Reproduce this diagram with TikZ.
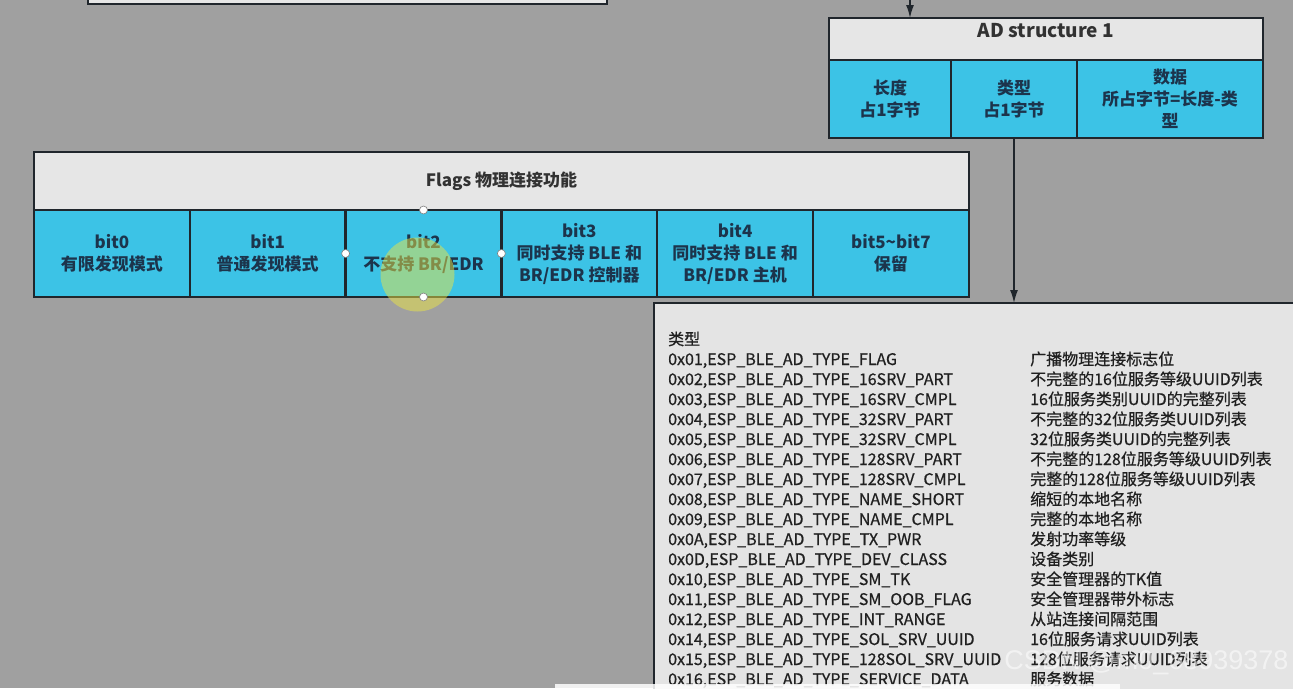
\documentclass[tikz,border=0pt]{standalone}
\usepackage{fontspec}
\setmainfont{Noto Sans CJK SC}
\newfontfamily\listfont[FakeBold=0.6]{Noto Sans CJK SC}
\newfontfamily\markfont{Liberation Sans}
\usepackage{tikz}
\usetikzlibrary{shapes.geometric, arrows.meta, positioning, calc}

\definecolor{bggray}{RGB}{160,160,160}
\definecolor{paper}{RGB}{230,230,230}
\definecolor{listpaper}{RGB}{228,228,228}
\definecolor{edge}{RGB}{32,38,44}
\definecolor{cyanfill}{RGB}{60,195,230}
\definecolor{cellink}{RGB}{28,52,76}
\definecolor{titleink}{RGB}{50,50,50}
\definecolor{listink}{RGB}{32,32,32}
\definecolor{glow}{RGB}{235,228,70}

\begin{document}
\begin{tikzpicture}[x=1pt, y=-1pt,
    titlebox/.style={rectangle, draw=edge, line width=2.5pt, fill=paper, outer sep=0pt, inner sep=3pt, text=titleink, font=\bfseries\fontsize{17pt}{20pt}\selectfont},
    cell/.style={rectangle, draw=edge, line width=2.5pt, fill=cyanfill, outer sep=0pt, inner sep=2pt, align=center, text=cellink, font=\bfseries\fontsize{17pt}{22pt}\selectfont},
    flagcell/.style={cell, minimum width=155.8, minimum height=87},
    adcell/.style={cell, minimum height=78},
    listtext/.style={inner sep=0pt, text=listink, font=\listfont\fontsize{16pt}{20pt}\selectfont},
    handle/.style={circle, draw=gray, fill=white, line width=0.6pt, inner sep=0pt, minimum size=8pt},
    arrow/.style={line width=1.5pt, draw=edge, -{Latex[length=13pt,width=8pt]}}]
    \fill[bggray] (0,0) rectangle (1293,688);
    \useasboundingbox (0,0) rectangle (1293,688);
    \clip (0,0) rectangle (1293,688);

    % box cut off at the top
    \node [titlebox, anchor=south west, minimum width=519, minimum height=40] (prev) at (88,4) {};

    % AD structure
    \node [titlebox, anchor=north west, minimum width=434, minimum height=42, text depth=17pt, font=\bfseries\fontsize{19pt}{22pt}\selectfont] (adtitle) at (829,18) {AD structure 1};
    \node [adcell, minimum width=122, anchor=north west] (adlen) at (adtitle.south west) {长度\\占1字节};
    \node [adcell, minimum width=126, right=0pt of adlen] (adtype) {类型\\占1字节};
    \node [adcell, minimum width=186, right=0pt of adtype] (addata) {数据\\所占字节=长度-类\\型};

    % Flags
    \node [titlebox, anchor=north west, minimum width=935, minimum height=58] (flags) at (34,152) {Flags 物理连接功能};
    \node [flagcell, anchor=north west] (bit0) at (flags.south west) {bit0\\有限发现模式};
    \node [flagcell, right=0pt of bit0] (bit1) {bit1\\普通发现模式};
    \node [flagcell, right=0pt of bit1] (bit2) {bit2\\不支持 BR/EDR};
    \node [flagcell, right=0pt of bit2] (bit3) {bit3\\同时支持 BLE 和\\BR/EDR 控制器};
    \node [flagcell, right=0pt of bit3] (bit4) {bit4\\同时支持 BLE 和\\BR/EDR 主机};
    \node [flagcell, right=0pt of bit4] (bit5) {bit5\textasciitilde bit7\\保留};

    % selection on bit2
    \fill [glow, opacity=0.5] ($(bit2.center)+(-6,21)$) circle (37);
    \node [handle] (hn) at (bit2.north) {};
    \node [handle] (hw) at (bit2.west) {};
    \node [handle] (he) at (bit2.east) {};
    \node [handle] (hs) at (bit2.south) {};

    % type list
    \node [rectangle, draw=edge, line width=2.5pt, fill=listpaper, outer sep=0pt, anchor=north west, minimum width=700, minimum height=420] (types) at (654,303) {};
    \node [listtext, anchor=base west] (typehead) at (668,345) {类型};
    \foreach \code/\desc [count=\i] in {
        {0x01,ESP\_BLE\_AD\_TYPE\_FLAG}/广播物理连接标志位,
        {0x02,ESP\_BLE\_AD\_TYPE\_16SRV\_PART}/不完整的16位服务等级UUID列表,
        {0x03,ESP\_BLE\_AD\_TYPE\_16SRV\_CMPL}/16位服务类别UUID的完整列表,
        {0x04,ESP\_BLE\_AD\_TYPE\_32SRV\_PART}/不完整的32位服务类UUID列表,
        {0x05,ESP\_BLE\_AD\_TYPE\_32SRV\_CMPL}/32位服务类UUID的完整列表,
        {0x06,ESP\_BLE\_AD\_TYPE\_128SRV\_PART}/不完整的128位服务等级UUID列表,
        {0x07,ESP\_BLE\_AD\_TYPE\_128SRV\_CMPL}/完整的128位服务等级UUID列表,
        {0x08,ESP\_BLE\_AD\_TYPE\_NAME\_SHORT}/缩短的本地名称,
        {0x09,ESP\_BLE\_AD\_TYPE\_NAME\_CMPL}/完整的本地名称,
        {0x0A,ESP\_BLE\_AD\_TYPE\_TX\_PWR}/发射功率等级,
        {0x0D,ESP\_BLE\_AD\_TYPE\_DEV\_CLASS}/设备类别,
        {0x10,ESP\_BLE\_AD\_TYPE\_SM\_TK}/安全管理器的TK值,
        {0x11,ESP\_BLE\_AD\_TYPE\_SM\_OOB\_FLAG}/安全管理器带外标志,
        {0x12,ESP\_BLE\_AD\_TYPE\_INT\_RANGE}/从站连接间隔范围,
        {0x14,ESP\_BLE\_AD\_TYPE\_SOL\_SRV\_UUID}/16位服务请求UUID列表,
        {0x15,ESP\_BLE\_AD\_TYPE\_128SOL\_SRV\_UUID}/128位服务请求UUID列表,
        {0x16,ESP\_BLE\_AD\_TYPE\_SERVICE\_DATA}/服务数据} {
        \node [listtext, anchor=base west] (code\i) at (668,345+20*\i) {\code};
        \node [listtext, anchor=base west] (desc\i) at (1030,345+20*\i) {\desc};
    }

    % scroll bar and watermark
    \fill [white, opacity=0.85] (555,684) rectangle (1120,690);
    \node [anchor=east, text=white, opacity=0.55, font=\markfont\fontsize{27pt}{30pt}\selectfont] (mark) at (1292,662) {CSDN @m0\_68939378};

    % connectors
    \coordinate (feed) at (910,-4);
    \draw [arrow] (feed) -- (feed |- adtitle.north);
    \draw [arrow] (adtype.south) -- (adtype.south |- types.north);
\end{tikzpicture}
\end{document}
